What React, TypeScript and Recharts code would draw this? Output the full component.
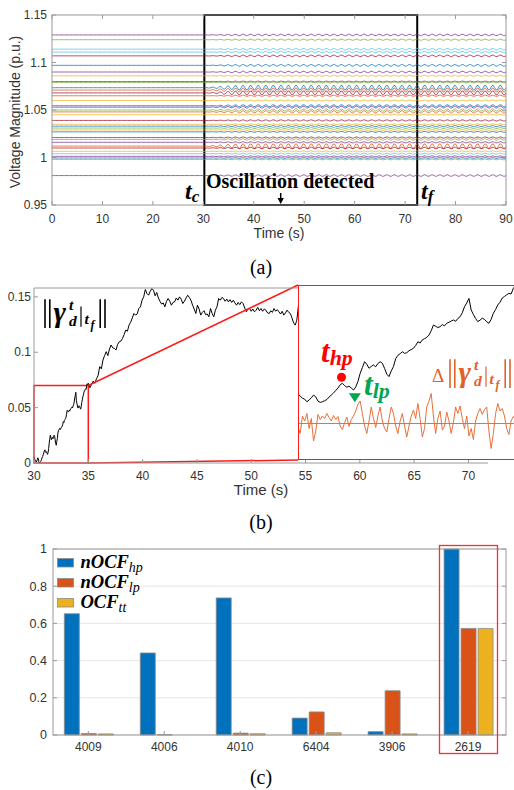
import {
  LineChart, Line, XAxis, YAxis, ReferenceArea, ReferenceLine, ReferenceDot,
  BarChart, Bar, CartesianGrid,
} from 'recharts'

const AX = '#9a9a9a'
const TXT = '#333333'
const SANS = '"Liberation Sans", Arial, sans-serif'
const SERIF = '"Liberation Serif", "Times New Roman", serif'

const PAL: Record<string, string> = {
  b: '#0072BD', o: '#D95319', y: '#EDB120', p: '#7E2F8E', g: '#77AC30', c: '#4DBEEE', r: '#A2142F',
}

// ---------- (a) bus voltage magnitudes ----------
const busLevels = [
  1.129, 1.124, 1.114, 1.111, 1.107, 1.097, 1.09, 1.086, 1.08, 1.079, 1.0735, 1.071, 1.068,
  1.065, 1.06, 1.0545, 1.053, 1.05, 1.048, 1.045, 1.039, 1.035, 1.033, 1.031, 1.029, 1.027,
  1.021, 1.019, 1.016, 1.012, 1.01, 1.0065, 1.004, 1.0012, 0.9995, 0.998, 0.981,
]
const busColors = [
  'p', 'g', 'c', 'c', 'r', 'b', 'p', 'y', 'p', 'g', 'b', 'o', 'r',
  'o', 'y', 'b', 'p', 'g', 'o', 'y', 'r', 'y', 'b', 'g', 'y', 'b',
  'r', 'g', 'p', 'o', 'r', 'y', 'c', 'p', 'b', 'g', 'p',
]
// oscillation amplitude (p.u.) seen after t_c
const busAmps = [
  0.0008, 0.0006, 0.0008, 0.0008, 0.0008, 0.0009, 0.0008, 0.0005, 0.0004, 0.0004, 0.0025, 0.0022, 0.0022,
  0.0006, 0.0004, 0.001, 0.001, 0.0012, 0.0012, 0.0004, 0.0006, 0.0004, 0.0006, 0.0005, 0.0005, 0.0005,
  0.0006, 0.0008, 0.0006, 0.0025, 0.0008, 0.0005, 0.0006, 0.0005, 0.0004, 0.0004, 0.0008,
]
// one oscillation cycle (~1.5 s), sampled every 0.25 s
const oscCycle = [0, 0.9, 0.9, 0, -0.9, -0.9]
// growth of the oscillation, per second from t = 30 s
const oscRamp = [0, 0.15, 0.3, 0.5, 0.65, 0.8, 0.9, 1]

const timeTicksA = [0, 10, 20, 30, 40, 50, 60, 70, 80, 90]
const voltTicks = [0.95, 1, 1.05, 1.1, 1.15]

const voltRows = Array.from({ length: 361 }, (_, i) => {
  const t = i * 0.25
  const k = t < 30 ? 0 : oscRamp[Math.min(oscRamp.length - 1, Math.floor(t - 30))]
  const row: Record<string, number> = { t }
  busLevels.forEach((lv, j) => {
    row['b' + j] = lv + busAmps[j] * k * oscCycle[i % oscCycle.length]
  })
  return row
})

// ---------- (b) norm of the deviation ----------
// 30 s .. 35 s, every 0.05 s (also shown in the zoomed inset)
const normZoom = [
  0.0055, 0.004, 0.0028, 0.0022, 0.0006, 0.0017, 0.003, 0.0047, 0.0036, 0.001,
  0.0002, 0.0006, 0.0012, 0.002, 0.0035, 0.0047, 0.006, 0.0075, 0.009, 0.011,
  0.0119, 0.0105, 0.0095, 0.0102, 0.009, 0.0078, 0.0096, 0.013, 0.018, 0.0215,
  0.0251, 0.0235, 0.0211, 0.0222, 0.0231, 0.022, 0.024, 0.0251, 0.0241, 0.021,
  0.0175, 0.016, 0.0195, 0.0221, 0.027, 0.029, 0.03, 0.0312, 0.0302, 0.0306,
  0.0318, 0.0325, 0.0333, 0.035, 0.0373, 0.0365, 0.0384, 0.0392, 0.04, 0.0414,
  0.044, 0.0475, 0.0468, 0.046, 0.0465, 0.0478, 0.047, 0.0486, 0.0492, 0.05,
  0.0506, 0.0498, 0.0515, 0.0526, 0.055, 0.0587, 0.061, 0.0638, 0.0567, 0.054,
  0.0515, 0.0496, 0.0505, 0.0517, 0.051, 0.0495, 0.0486, 0.051, 0.0547, 0.057,
  0.0598, 0.0615, 0.064, 0.065, 0.066, 0.0669, 0.0665, 0.07, 0.0715, 0.0708, 0.072,
]
// 35.15 s .. 54.5 s, every 0.15 s
const normMain = [
  0.068, 0.071, 0.074, 0.072, 0.076, 0.079, 0.087, 0.085, 0.093, 0.097,
  0.1005, 0.097, 0.103, 0.1065, 0.104, 0.1035, 0.102, 0.107, 0.1095, 0.11,
  0.1125, 0.116, 0.12, 0.119, 0.1245, 0.127, 0.131, 0.135, 0.1335, 0.1345,
  0.1395, 0.141, 0.147, 0.15, 0.1566, 0.153, 0.1515, 0.155, 0.1575, 0.156,
  0.151, 0.154, 0.149, 0.146, 0.1435, 0.1445, 0.141, 0.146, 0.1485, 0.146,
  0.1425, 0.145, 0.1455, 0.149, 0.147, 0.15, 0.148, 0.144, 0.146, 0.149,
  0.1515, 0.1495, 0.147, 0.1425, 0.139, 0.135, 0.1425, 0.139, 0.1335, 0.136,
  0.1375, 0.134, 0.1345, 0.132, 0.1395, 0.135, 0.132, 0.138, 0.141, 0.1485,
  0.147, 0.1495, 0.1485, 0.146, 0.148, 0.1455, 0.1475, 0.145, 0.147, 0.1445,
  0.1425, 0.145, 0.143, 0.1455, 0.144, 0.14, 0.1365, 0.139, 0.1395, 0.137,
  0.139, 0.1365, 0.138, 0.1405, 0.1375, 0.1395, 0.137, 0.139, 0.138, 0.1355,
  0.135, 0.1375, 0.136, 0.1395, 0.137, 0.1385, 0.1365, 0.1345, 0.137, 0.1335,
  0.1355, 0.138, 0.136, 0.135, 0.131, 0.1265, 0.1245, 0.129, 0.1425, 0.141,
]
// increment of the norm (x 1e-3), 30 s .. 35 s every 0.05 s
const deltaMilli = [
  -0.7, -2.0, 1.5, 0.5, 2.0, -1.0, 1.0, -3.5, -1.5, 1.8,
  0.8, 1.5, 1.0, 2.0, 1.2, 0.5, 1.6, 0.8, 1.4, -0.5,
  -1.2, 0.2, 1.3, -0.6, 0.8, 1.5, 2.5, 3.8, 4.5, 2.0,
  -0.5, -2.0, 0.5, 3.3, 1.0, -0.8, 1.5, 3.3, 0.5, -1.0,
  -1.7, 1.0, 3.3, 2.0, -0.5, -2.0, 0.5, 2.0, -0.5, -2.7,
  -0.5, 1.5, 2.7, 1.0, 4.0, 1.0, -2.7, -1.0, 3.3, 4.5,
  6.0, 1.5, -2.0, 1.0, 2.5, -1.3, -0.5, 2.3, 0.5, -2.0,
  0.2, 3.3, 2.0, 3.5, 1.0, -1.0, 1.5, -2.5, -1.0, -3.2,
  0.5, 2.0, 3.0, 1.8, 2.8, 3.3, -1.5, -5.0, -2.0, 2.0,
  4.0, 2.5, 3.0, 1.5, -1.0, -2.2, 0.5, 1.4, 0.8, 1.2, 0.5,
]
const tHp = { t: 30.98, v: 0.0156 }
const tLp = { t: 31.28, v: 0.0033 }
const timeTicksB = [30, 35, 40, 45, 50, 55, 60, 65, 70]
const normTicks = [0, 0.05, 0.1, 0.15]

const zoomRows = normZoom.map((v, i) => ({ t: 30 + i * 0.05, v, d: deltaMilli[i] / 1000 }))
const mainRows = [
  ...normZoom.map((v, i) => ({ t: 30 + i * 0.05, v })),
  ...normMain.map((v, i) => ({ t: 35.15 + i * 0.15, v })),
]

// ---------- (c) oscillation contribution factors ----------
const busIds = ['4009', '4006', '4010', '6404', '3906', '2619']
const nOcfHp = [0.652, 0.441, 0.737, 0.091, 0.018, 1.0]
const nOcfLp = [0.008, 0.002, 0.01, 0.124, 0.238, 0.573]
const ocfTt = [0.006, 0.0, 0.007, 0.012, 0.006, 0.573]
const barTicks = [0, 0.2, 0.4, 0.6, 0.8, 1]
const barRows = busIds.map((id, i) => ({ x: i + 1, id, hp: nOcfHp[i], lp: nOcfLp[i], tt: ocfTt[i] }))

const fmtNum = (v: number) => String(Math.round(v * 1000) / 1000)

function xTick(top: number, fmt: (v: number) => string, size: number, gap: number, topMax = Infinity) {
  return (p: any) => {
    const { x, y, payload } = p
    return (
      <g>
        <line x1={x} x2={x} y1={y} y2={y - 4} stroke={AX} />
        {x < topMax && <line x1={x} x2={x} y1={top} y2={top + 4} stroke={AX} />}
        <text x={x} y={y + gap} dy="0.71em" textAnchor="middle" fontFamily={SANS} fontSize={size} fill={TXT}>
          {fmt(payload.value)}
        </text>
      </g>
    )
  }
}

function yTick(right: number, size: number, gap: number, showRight = true) {
  return (p: any) => {
    const { x, y, payload } = p
    return (
      <g>
        <line x1={x} x2={x + 4} y1={y} y2={y} stroke={AX} />
        {showRight && <line x1={right} x2={right - 4} y1={y} y2={y} stroke={AX} />}
        <text x={x - gap} y={y} dy="0.35em" textAnchor="end" fontFamily={SANS} fontSize={size} fill={TXT}>
          {fmtNum(payload.value)}
        </text>
      </g>
    )
  }
}

function NormLabel({ x, y, color, s = 1 }: { x: number; y: number; color: string; s?: number }) {
  const bar = (dx: number, top: number, bot: number, w = 1.6) => (
    <line x1={x + dx * s} x2={x + dx * s} y1={y + top * s} y2={y + bot * s} stroke={color} strokeWidth={w} />
  )
  const it = { fontFamily: SERIF, fontStyle: 'italic', fontWeight: 700, fill: color }
  return (
    <g>
      {bar(0, -19, 5)}
      {bar(4, -19, 5)}
      <text x={x + 7 * s} y={y} fontSize={25 * s} {...it}>γ</text>
      <text x={x + 20 * s} y={y - 10 * s} fontSize={13 * s} {...it}>t</text>
      <text x={x + 20 * s} y={y + 3 * s} fontSize={13 * s} {...it}>d</text>
      {bar(30, -13, 4, 1.2)}
      <text x={x + 33 * s} y={y + 2 * s} fontSize={13 * s} {...it}>t</text>
      <text x={x + 38 * s} y={y + 6 * s} fontSize={10 * s} {...it}>f</text>
      {bar(46, -19, 5)}
      {bar(50, -19, 5)}
    </g>
  )
}

function SubLabel({ x, y, main, sub, color, size, subSize, dy }: any) {
  return (
    <text x={x} y={y} fontFamily={SERIF} fontStyle="italic" fontWeight={700} fontSize={size} fill={color}>
      <tspan>{main}</tspan>
      <tspan dy={dy} fontSize={subSize}>{sub}</tspan>
    </text>
  )
}

const legendItems = [
  { name: 'nOCF', sub: 'hp', color: PAL.b },
  { name: 'nOCF', sub: 'lp', color: PAL.o },
  { name: 'OCF', sub: 'tt', color: PAL.y },
]

export default function App() {
  return (
    <div style={{ position: 'relative', width: 514, height: 790, overflow: 'hidden', background: '#fff' }}>
      <style>{'body{margin:0;overflow:hidden}'}</style>

      {/* (a) */}
      <div style={{ position: 'absolute', left: 0, top: 0 }}>
        <LineChart width={514} height={250} data={voltRows} margin={{ top: 15, right: 8, left: 0, bottom: 0 }}>
          <XAxis
            dataKey="t" type="number" domain={[0, 90]} ticks={timeTicksA} interval={0}
            axisLine={false} tickLine={false} tickSize={0} tickMargin={0} height={45}
            tick={xTick(15, (v) => String(v), 12, 9)}
          />
          <YAxis
            type="number" domain={[0.95, 1.15]} ticks={voltTicks} interval={0} allowDataOverflow
            axisLine={false} tickLine={false} tickSize={0} tickMargin={0} width={52}
            tick={yTick(506, 12, 5)}
          />
          {busLevels.map((_, j) => (
            <Line
              key={j} dataKey={'b' + j} stroke={PAL[busColors[j]]} strokeWidth={0.9} strokeOpacity={0.85}
              dot={false} isAnimationActive={false} type="linear"
            />
          ))}
          <ReferenceArea x1={30.2} x2={72.4} y1={0.95} y2={1.15} fill="none" stroke="#000" strokeWidth={2} ifOverflow="visible" />
        </LineChart>
      </div>

      {/* (b) main */}
      <div style={{ position: 'absolute', left: 0, top: 280 }}>
        <LineChart width={514} height={230} data={mainRows} margin={{ top: 8, right: 26, left: 0, bottom: 0 }}>
          <XAxis
            dataKey="t" type="number" domain={[30, 71.8]} ticks={timeTicksB} interval={0}
            axisLine={false} tickLine={false} tickSize={0} tickMargin={0} height={47}
            tick={xTick(288, (v) => String(v), 12, 8, 298)}
          />
          <YAxis
            type="number" domain={[0, 0.158]} ticks={normTicks} interval={0} allowDataOverflow
            axisLine={false} tickLine={false} tickSize={0} tickMargin={0} width={34}
            tick={yTick(488, 12, 3, false)}
          />
          <Line dataKey="v" stroke="#000" strokeWidth={1} dot={false} isAnimationActive={false} type="linear" />
          <ReferenceArea x1={30} x2={35} y1={0} y2={0.07} fill="none" stroke="#FF1A1A" strokeWidth={1.5} ifOverflow="visible" />
          <ReferenceLine segment={[{ x: 35, y: 0.07 }, { x: 54.31, y: 0.1607 }]} stroke="#FF1A1A" strokeWidth={1.5} ifOverflow="visible" />
          <ReferenceLine segment={[{ x: 35, y: 0 }, { x: 54.31, y: 0.0027 }]} stroke="#FF1A1A" strokeWidth={1.5} ifOverflow="visible" />
        </LineChart>
      </div>

      {/* (b) zoomed inset */}
      <div style={{ position: 'absolute', left: 298, top: 285, width: 222, height: 175, background: '#fff' }}>
        <LineChart width={222} height={175} data={zoomRows} margin={{ top: 0, right: 0, left: 0, bottom: 0 }}>
          <XAxis dataKey="t" type="number" domain={[30, 35]} hide />
          <YAxis yAxisId="n" type="number" domain={[-0.035, 0.072]} hide allowDataOverflow />
          <YAxis yAxisId="d" type="number" domain={[-0.0073, 0.0277]} hide allowDataOverflow />
          <ReferenceLine yAxisId="d" y={0} stroke="#7f7fff" strokeWidth={1} />
          <Line yAxisId="d" dataKey="d" stroke="#E8703A" strokeWidth={1} dot={false} isAnimationActive={false} type="linear" />
          <Line yAxisId="n" dataKey="v" stroke="#000" strokeWidth={1} dot={false} isAnimationActive={false} type="linear" />
          <ReferenceDot yAxisId="n" x={tHp.t} y={tHp.v} r={4.5} fill="#FF0000" stroke="none" />
          <ReferenceDot
            yAxisId="n" x={tLp.t} y={tLp.v} r={5}
            shape={(p: any) => (
              <path d={`M${p.cx - 6},${p.cy - 4} L${p.cx + 6},${p.cy - 4} L${p.cx},${p.cy + 5} Z`} fill="#00A651" />
            )}
          />
        </LineChart>
        <div style={{ position: 'absolute', inset: 0, border: '1.5px solid #FF1A1A', boxSizing: 'border-box' }} />
      </div>

      {/* (c) */}
      <div style={{ position: 'absolute', left: 0, top: 540 }}>
        <BarChart
          width={514} height={230} data={barRows} margin={{ top: 9, right: 8, left: 0, bottom: 0 }}
          barCategoryGap={14} barGap={2}
        >
          <CartesianGrid vertical={false} stroke="#e6e6e6" />
          <XAxis
            dataKey="x" type="number" domain={[0.535, 6.5]} ticks={[1, 2, 3, 4, 5, 6]} interval={0}
            axisLine={false} tickLine={false} tickSize={0} tickMargin={0} height={35}
            tick={xTick(549, (v) => busIds[v - 1], 12, 7)}
          />
          <YAxis
            type="number" domain={[0, 1]} ticks={barTicks} interval={0}
            axisLine={false} tickLine={false} tickSize={0} tickMargin={0} width={53}
            tick={yTick(506, 12.5, 6)}
          />
          <Bar dataKey="hp" fill={PAL.b} stroke="#8a8a8a" strokeWidth={0.8} isAnimationActive={false} />
          <Bar dataKey="lp" fill={PAL.o} stroke="#8a8a8a" strokeWidth={0.8} isAnimationActive={false} />
          <Bar dataKey="tt" fill={PAL.y} stroke="#8a8a8a" strokeWidth={0.8} isAnimationActive={false} />
        </BarChart>
      </div>

      {/* annotations */}
      <svg width={514} height={790} style={{ position: 'absolute', left: 0, top: 0, pointerEvents: 'none' }}>
        {/* (a) */}
        <rect x={52} y={15} width={454} height={190} fill="none" stroke={AX} strokeWidth={1} />
        <text x={15.5} y={112} transform="rotate(-90 15.5 112)" textAnchor="middle" dy="0.35em" fontFamily={SANS} fontSize={14} fill={TXT}>
          Voltage Magnitude (p.u.)
        </text>
        <text x={279} y={238} textAnchor="middle" fontFamily={SANS} fontSize={14} fill={TXT}>Time (s)</text>
        <text x={206} y={188} fontFamily={SERIF} fontWeight={700} fontSize={20} fill="#000">Oscillation detected</text>
        <line x1={280.7} x2={280.7} y1={193} y2={199} stroke="#000" strokeWidth={1.5} />
        <path d="M277.5,198 L283.9,198 L280.7,204 Z" fill="#000" />
        <SubLabel x={185} y={199} main="t" sub="c" color="#000" size={24} subSize={17} dy={3} />
        <SubLabel x={421} y={199} main="t" sub="f" color="#000" size={24} subSize={17} dy={3} />
        <text x={261} y={274} textAnchor="middle" fontFamily={SERIF} fontSize={20} fill="#000">(a)</text>

        {/* (b) */}
        <line x1={34} x2={34} y1={288} y2={463} stroke={AX} />
        <line x1={34} x2={488} y1={463} y2={463} stroke={AX} />
        <line x1={34} x2={298} y1={288} y2={288} stroke={AX} />
        <NormLabel x={45} y={322} color="#000" s={1.2} />
        <SubLabel x={321} y={362} main="t" sub="hp" color="#FF0000" size={31} subSize={22} dy={3} />
        <SubLabel x={364} y={395} main="t" sub="lp" color="#00A651" size={31} subSize={22} dy={3} />
        <text x={432} y={382} fontFamily={SERIF} fontSize={19} fill="#E0622A">Δ</text>
        <NormLabel x={450} y={382} color="#E0622A" s={1.2} />
        <text x={261} y={495} textAnchor="middle" fontFamily={SANS} fontSize={15} fill={TXT}>Time (s)</text>
        <text x={261} y={529} textAnchor="middle" fontFamily={SERIF} fontSize={20} fill="#000">(b)</text>

        {/* (c) */}
        <rect x={53} y={549} width={453} height={186} fill="none" stroke={AX} strokeWidth={1} />
        {legendItems.map((it, i) => (
          <g key={it.sub}>
            <rect x={57.5} y={558.5 + i * 20} width={16} height={8.5} fill={it.color} stroke="#8a8a8a" strokeWidth={0.8} />
            <text x={80.5} y={567.5 + i * 20} fontFamily={SERIF} fontStyle="italic" fontSize={18.5} fill="#000">
              <tspan fontWeight={700}>{it.name}</tspan>
              <tspan dy={4} fontSize={14}>{it.sub}</tspan>
            </text>
          </g>
        ))}
        <rect x={439.5} y={545.5} width={58} height={208} fill="none" stroke="#FF2A2A" strokeWidth={1.3} />
        <text x={261} y={784} textAnchor="middle" fontFamily={SERIF} fontSize={20} fill="#000">(c)</text>
      </svg>
    </div>
  )
}
